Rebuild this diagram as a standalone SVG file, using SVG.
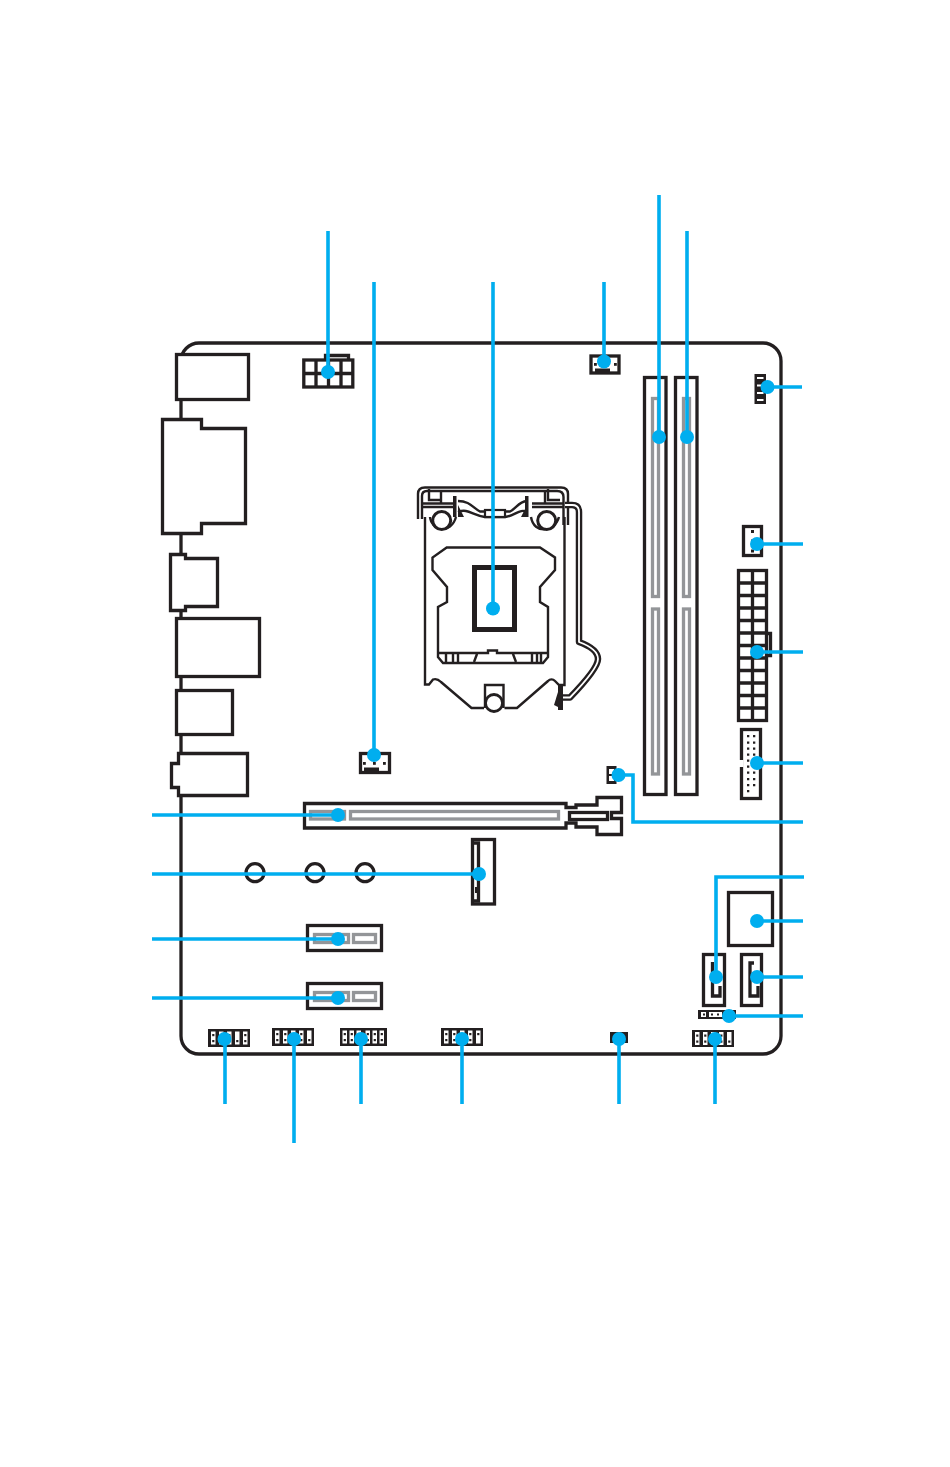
<svg xmlns="http://www.w3.org/2000/svg" xmlns:xlink="http://www.w3.org/1999/xlink" width="950" height="1467" viewBox="0 0 950 1467">
<style>
.k{fill:#fff;stroke:#231f20;stroke-width:3.300;stroke-linejoin:miter}
.n{fill:none;stroke:#231f20;stroke-width:3.300}
.t{fill:none;stroke:#231f20;stroke-width:2.400}
.g{fill:#fff;stroke:#939598;stroke-width:3.300}
.b{fill:#231f20}
.w{fill:#fff}
.c{fill:none;stroke:#00aeef;stroke-width:3.600}
.d{fill:#00aeef}
</style>
<defs>
<g id="p2"><rect class="w" width="4.500" height="13"/><rect class="b" x="1.200" y="2.500" width="2.200" height="2.200"/><rect class="b" x="1.200" y="8.500" width="2.200" height="2.200"/></g>
<g id="pb"><rect class="w" width="4.500" height="13"/><rect class="b" x="1.200" y="8.500" width="2.200" height="2.200"/></g>
<g id="pt"><rect class="w" width="4.500" height="13"/><rect class="b" x="1.200" y="2.500" width="2.200" height="2.200"/></g>
</defs>
<rect width="950" height="1467" fill="#fff"/>
<g id="board"><rect class="n" x="181" y="343" width="600" height="711" rx="18"/></g>
<g id="io-1"><rect class="k" x="176.500" y="354.500" width="72" height="45"/></g>
<g id="io-2"><path class="k" d="M162.500 419.500H201.500V428.500H245.500V523.500H201.500V533.500H162.500Z"/></g>
<g id="io-3"><path class="k" d="M170.500 554.500H185.500V558.500H217.500V606.500H185.500V610.500H170.500Z"/></g>
<g id="io-4"><rect class="k" x="176.500" y="618.500" width="83" height="58"/></g>
<g id="io-5"><rect class="k" x="176.500" y="690.500" width="56" height="44"/></g>
<g id="io-6"><path class="k" d="M178.500 753.500H247.500V795.500H178.500V787.500H171.500V763.500H178.500Z"/></g>
<g id="atx-8pin"><path class="n" d="M325.500 359V355.500H348.500V359"/><rect class="k" x="303.800" y="360" width="49" height="27"/><path class="n" d="M316 360V387M328.500 360V387M341 360V387M304 373.500H353"/></g>
<g id="cpu-fan"><rect class="k" x="591" y="356" width="28" height="17"/><rect class="b" x="595" y="368.500" width="15" height="3.500"/><rect class="b" x="594" y="363" width="2.800" height="2.800"/><rect class="b" x="614" y="363" width="2.800" height="2.800"/></g>
<g id="sys-fan"><rect class="k" x="360.500" y="753.500" width="29" height="19"/><rect class="b" x="364" y="767.500" width="15" height="4.500"/><rect class="b" x="363" y="762" width="2.800" height="2.800"/><rect class="b" x="373" y="762" width="2.800" height="2.800"/><rect class="b" x="383" y="762" width="2.800" height="2.800"/></g>
<g id="socket">
<path class="t" d="M425 517V684.500H429L433 679.500C437 678 439 680 441 682L471.500 708H484M504.500 708H517L548 681C550 679 553 679 555 681L559 685H564.500V517"/>
<path class="t" d="M446.700 547.500H540L555 557.500V570L540 587V602L548 607V657L543 663H443L438 657V607L447 602V587L432.500 570V557.500Z"/>
<path class="t" d="M438.500 653H488V650.500H497V653H548M446 654V662M453 654V662M458 654V662M477 654L474 662M513 654L516 662M532 654V662M537 654V662M541 654V662"/>
<rect fill="#fff" stroke="#231f20" stroke-width="5" x="474.500" y="567.500" width="40" height="62"/>
<path class="t" d="M485 708V685H503.500V708"/>
<circle cx="494" cy="703" r="8.500" fill="#fff" stroke="#231f20" stroke-width="2.800"/>
<path class="t" stroke-width="3" d="M418 519V494Q418 487.500 425 487.500H561Q568 487.500 568 494V525"/>
<path class="t" d="M422 519V496Q422 491 427 491H557Q563.500 491 563.500 497V525"/>
<path class="t" d="M441 492V503M429 489V500H441M545 492V503M560 500H548V489M422 503.500H453M422 507H453M532 503.500H563M532 507H563"/>
<rect class="b" x="453" y="496" width="3.500" height="21"/><rect class="b" x="525" y="496" width="3.500" height="21"/>
<path class="t" d="M458 501C470 501 473 508 480 511.500H485M458 512C468 508 472 515 485 517H505C515 516 520 508 527 512M505 511.500H510C517 508 518 502 527 501"/>
<rect class="k" style="stroke-width:2.200" x="485" y="510" width="20" height="7"/>
<path class="b" d="M458 505l6 12h-6zM527 505l-6 12h6z"/>
<path class="t" stroke-width="3" d="M430 517C431 530 451 535 456 517M531 517C534 535 555 532 559 517"/>
<circle cx="441.700" cy="520.500" r="9" fill="#fff" stroke="#231f20" stroke-width="3"/>
<circle cx="546.700" cy="520.500" r="9" fill="#fff" stroke="#231f20" stroke-width="3"/>
<path fill="none" stroke="#231f20" stroke-width="6.500" stroke-linejoin="round" d="M565 505H572Q579 505 579 512V642C590 646 598 651 598 659C598 666 585 682 570 697.500H560"/>
<path fill="none" stroke="#fff" stroke-width="1.800" stroke-linejoin="round" d="M565 505H572Q579 505 579 512V642C590 646 598 651 598 659C598 666 585 682 570 697.500H560"/>
<rect class="b" x="558" y="685" width="5" height="25"/><path class="b" d="M558 692l-4 13 4 2z"/>
</g>
<g id="dimm-a"><rect class="k" x="644.500" y="377.500" width="21.500" height="417"/><rect class="g" x="652.500" y="398.500" width="6" height="198"/><rect class="g" x="652.500" y="609" width="6" height="165"/></g>
<g id="dimm-b"><rect class="k" x="675.500" y="377.500" width="21.500" height="417"/><rect class="g" x="683.500" y="398.500" width="6" height="198"/><rect class="g" x="683.500" y="609" width="6" height="165"/></g>
<g id="fan-4pin"><rect class="b" x="754.500" y="374" width="11.500" height="30"/><rect class="w" x="757" y="377" width="6.500" height="2"/><rect class="w" x="757" y="384.500" width="6.500" height="2"/><rect class="w" x="757" y="392" width="6.500" height="2"/><rect class="w" x="757" y="399" width="6.500" height="2"/></g>
<g id="fan-3pin"><rect class="k" x="743.500" y="526.500" width="18" height="29"/><rect class="b" x="751" y="530" width="3" height="3"/><rect class="b" x="751" y="539.500" width="3" height="3"/><rect class="b" x="751" y="549.500" width="3" height="3"/></g>
<g id="atx-24pin"><path class="n" d="M768 633.500H770.500V655.500H768"/><rect class="k" x="738.500" y="570.500" width="28" height="150"/><path class="n" d="M752.500 570V721M738 583H767M738 595.500H767M738 608H767M738 620.500H767M738 633H767M738 645.500H767M738 658H767M738 670.500H767M738 683H767M738 695.500H767M738 708H767"/></g>
<g id="usb-header"><rect class="k" x="741.500" y="729.500" width="19" height="69"/><rect class="w" x="739" y="760" width="4.500" height="7"/><path class="b" d="M747 735h2.300v2.300h-2.300zM753 735h2.300v2.300h-2.300zM747 741.500h2.300v2.300h-2.300zM753 741.500h2.300v2.300h-2.300zM747 747.500h2.300v2.300h-2.300zM753 747.500h2.300v2.300h-2.300zM747 753.500h2.300v2.300h-2.300zM753 753.500h2.300v2.300h-2.300zM747 759.500h2.300v2.300h-2.300zM753 759.500h2.300v2.300h-2.300zM747 765.500h2.300v2.300h-2.300zM753 765.500h2.300v2.300h-2.300zM747 771.500h2.300v2.300h-2.300zM753 771.500h2.300v2.300h-2.300zM747 778h2.300v2.300h-2.300zM753 778h2.300v2.300h-2.300zM747 784h2.300v2.300h-2.300zM753 784h2.300v2.300h-2.300zM747 790h2.300v2.300h-2.300z"/></g>
<g id="jumper-1"><rect class="b" x="606.500" y="766" width="10" height="18"/><rect class="w" x="609" y="769" width="5" height="5"/><rect class="w" x="609" y="776" width="5" height="5"/></g>
<g id="pcie-x16"><path class="k" d="M304.500 803.500H566V807.500H576V805H597V797.500H621.500V812.500H611.500V818.500H621.500V834.500H597V827H576V823H566V828H304.500Z"/><rect class="k" x="569.500" y="812.500" width="38" height="7"/><rect class="g" x="310.500" y="811.500" width="34" height="7.500"/><rect class="g" x="350.500" y="811.500" width="208" height="7.500"/></g>
<g id="holes"><circle class="k" cx="255" cy="872.700" r="9"/><circle class="k" cx="315" cy="872.700" r="9"/><circle class="k" cx="365" cy="872.700" r="9"/></g>
<g id="m2"><rect class="k" x="472.500" y="839.500" width="22" height="64.500"/><path class="n" stroke-width="2.400" d="M473 843H478.500V901H473"/><rect class="b" x="475" y="887" width="3" height="6"/></g>
<g id="pcie-x1-a"><rect class="k" x="307.500" y="925.500" width="74" height="25"/><rect class="g" x="314.500" y="934.500" width="34" height="8"/><rect class="g" x="353.500" y="934.500" width="22" height="8"/></g>
<g id="pcie-x1-b"><rect class="k" x="307.500" y="983.500" width="74" height="25"/><rect class="g" x="314.500" y="992.500" width="34" height="8"/><rect class="g" x="353.500" y="992.500" width="22" height="8"/></g>
<g id="chip"><rect class="k" x="728.500" y="892.500" width="44" height="53"/></g>
<g id="sata-1"><rect class="k" x="703.500" y="954.500" width="21" height="51"/><path class="n" d="M712.500 962V996H720V986"/></g>
<g id="sata-2"><rect class="k" x="741.500" y="954.500" width="20" height="51"/><path class="n" d="M754 963H750V996H758V986"/></g>
<g id="jumper-2"><rect class="b" x="698" y="1010" width="38" height="9"/><rect class="w" x="701" y="1012" width="5" height="5"/><rect class="w" x="709" y="1012" width="13" height="5"/><rect class="b" x="703" y="1013.500" width="2" height="2"/><rect class="b" x="711" y="1013.500" width="2" height="2"/><rect class="b" x="717" y="1013.500" width="2" height="2"/></g>
<g id="header-1"><rect class="b" x="208" y="1029" width="42" height="18"/><use xlink:href="#p2" x="211" y="1031.500"/><use xlink:href="#p2" x="219" y="1031.500"/><use xlink:href="#p2" x="227" y="1031.500"/><use xlink:href="#pb" x="235" y="1031.500"/><use xlink:href="#p2" x="243" y="1031.500"/></g>
<g id="header-2"><rect class="b" x="272" y="1028" width="42" height="18"/><use xlink:href="#p2" x="275" y="1030.500"/><use xlink:href="#p2" x="283" y="1030.500"/><use xlink:href="#p2" x="291" y="1030.500"/><use xlink:href="#p2" x="299" y="1030.500"/><use xlink:href="#pb" x="307" y="1030.500"/></g>
<g id="header-3"><rect class="b" x="340" y="1028" width="47" height="18"/><use xlink:href="#p2" x="342.500" y="1030.500"/><use xlink:href="#p2" x="349.500" y="1030.500"/><use xlink:href="#p2" x="356.500" y="1030.500"/><use xlink:href="#p2" x="365.500" y="1030.500"/><use xlink:href="#p2" x="372.500" y="1030.500"/><use xlink:href="#p2" x="379.500" y="1030.500"/></g>
<g id="header-4"><rect class="b" x="441" y="1028" width="42" height="18"/><use xlink:href="#p2" x="444" y="1030.500"/><use xlink:href="#p2" x="452" y="1030.500"/><use xlink:href="#p2" x="460" y="1030.500"/><use xlink:href="#p2" x="468" y="1030.500"/><use xlink:href="#pt" x="476" y="1030.500"/></g>
<g id="battery-pin"><rect class="b" x="610" y="1032" width="18" height="11"/></g>
<g id="header-5"><rect class="b" x="692" y="1030" width="42" height="17"/><use xlink:href="#p2" x="695" y="1032"/><use xlink:href="#p2" x="703" y="1032"/><use xlink:href="#p2" x="711" y="1032"/><use xlink:href="#p2" x="719" y="1032"/><use xlink:href="#pb" x="727" y="1032"/></g>
<g id="connectors">
<path class="c" d="M328 231V372M374 282V755M493 282V608M604 282V361M659 195V437M687 231V437M767 387H802M757 544H803M757 652H803M757 763H803M618 775H633V822H803M716 977V877H804M757 921H803M757 977H803M729 1016H803M152 815H338M152 874H479M152 939H338M152 998H338M225 1039V1104M294 1039V1143M361 1039V1104M462 1039V1104M619 1039V1104M715 1039V1104"/>
<g class="d"><circle cx="328" cy="372" r="7"/><circle cx="374" cy="755" r="7"/><circle cx="493" cy="608.500" r="7"/><circle cx="604" cy="361.500" r="7"/><circle cx="659" cy="437" r="7"/><circle cx="687" cy="437" r="7"/><circle cx="767.500" cy="387" r="7"/><circle cx="757" cy="544" r="7"/><circle cx="757" cy="652" r="7"/><circle cx="757" cy="763" r="7"/><circle cx="618.500" cy="775" r="7"/><circle cx="716" cy="977" r="7"/><circle cx="757" cy="921" r="7"/><circle cx="757" cy="977" r="7"/><circle cx="729" cy="1016" r="7"/><circle cx="338" cy="815" r="7"/><circle cx="479" cy="874" r="7"/><circle cx="338" cy="939" r="7"/><circle cx="338" cy="998" r="7"/><circle cx="224.500" cy="1039" r="7"/><circle cx="294" cy="1039" r="7"/><circle cx="361" cy="1039" r="7"/><circle cx="462" cy="1039" r="7"/><circle cx="619" cy="1039" r="7"/><circle cx="715" cy="1039" r="7"/></g>
</g>
</svg>
